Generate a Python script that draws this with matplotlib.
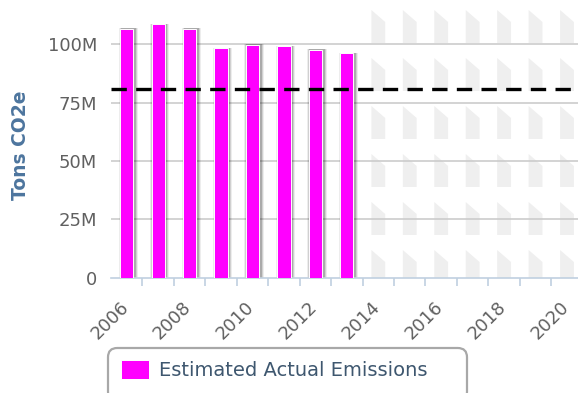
import matplotlib
matplotlib.use("Agg")
import matplotlib.pyplot as plt
import matplotlib.transforms as mtransforms
from matplotlib.patches import Polygon, Rectangle, FancyBboxPatch
from matplotlib.ticker import FixedLocator, FuncFormatter

# emissions in million tons CO2e
actual_years = [2006, 2007, 2008, 2009, 2010, 2011, 2012, 2013]
actual = [106.5, 108.6, 106.5, 98.3, 99.9, 99.2, 97.6, 96.2]
target = 81.0
future_years = [2014, 2015, 2016, 2017, 2018, 2019, 2020, 2021]
label_years = [2006, 2008, 2010, 2012, 2014, 2016, 2018, 2020]
y_ticks = [0, 25, 50, 75, 100]

W, H = 578, 393
fig = plt.figure(figsize=(W / 100, H / 100), dpi=100)
ax_h = 277.7
ax = fig.add_axes([111 / W, 1 - ax_h / H, 1 - 111 / W, ax_h / H])

ax.set_xlim(2005.5, 2020.35)
ax.set_ylim(0, 119.0)

# hatched band for the projection period
band = mtransforms.blended_transform_factory(ax.transData, ax.transAxes)
tw, slant, th, period = 0.44, 12 / ax_h, 33 / ax_h, 48 / ax_h
for cx in future_years:
    for k in range(7):
        top = 1 - (10 / ax_h) - k * period
        pts = [(cx - tw / 2, top), (cx + tw / 2, top - slant),
               (cx + tw / 2, top - th), (cx - tw / 2, top - th)]
        ax.add_patch(Polygon(pts, closed=True, transform=band,
                             facecolor="#efefef", edgecolor="none",
                             zorder=0, clip_on=True))

# gridlines
for v in y_ticks[1:]:
    ax.axhline(v, color="#c8c8c8", lw=1.1, zorder=1)

# bar shadows, then bars
bw = 0.42
px = 1 / 31.5
for i, (x, v) in enumerate(zip(actual_years, actual)):
    for grow, alpha in [(6, 0.07), (4, 0.12), (2, 0.18)]:
        ax.add_patch(Rectangle((x - bw / 2 + 1.5 * px - grow * px / 2, 0),
                               bw + grow * px, v + 0.3, facecolor="black",
                               edgecolor="none", alpha=alpha, zorder=2))
ax.bar(actual_years, actual, width=bw, color="#ff00ff", edgecolor="#ffffff",
       linewidth=0.7, zorder=3, label="Estimated Actual Emissions")

# reduction target
ax.axhline(target, color="black", lw=2.4, dashes=(4.6, 2.8), zorder=4)

for s in ["top", "right", "left"]:
    ax.spines[s].set_visible(False)
ax.spines["bottom"].set_color("#c0d0e0")
ax.spines["bottom"].set_linewidth(1.2)

ax.yaxis.set_major_locator(FixedLocator(y_ticks))
ax.yaxis.set_major_formatter(FuncFormatter(lambda v, p: "0" if v == 0 else f"{v:.0f}M"))
ax.tick_params(axis="y", length=0, pad=10, labelsize=13, labelcolor="#606060")

ax.xaxis.set_major_locator(FixedLocator(label_years))
ax.xaxis.set_minor_locator(FixedLocator([y + 0.5 for y in range(2006, 2021)]))
ax.set_xticklabels([str(y) for y in label_years])
ax.tick_params(axis="x", which="major", length=0, pad=19, labelsize=13,
               labelcolor="#606060")
ax.tick_params(axis="x", which="minor", length=6, width=1.2, color="#c0d0e0")
shift = mtransforms.ScaledTranslation(-1 / 100, 0, fig.dpi_scale_trans)
for lab in ax.get_xticklabels():
    lab.set_rotation(45)
    lab.set_ha("right")
    lab.set_va("center")
    lab.set_rotation_mode("anchor")
    lab.set_transform(lab.get_transform() + shift)

fig.text(21 / W, 1 - 145 / H, "Tons CO2e", rotation=90, ha="center",
         va="center", fontsize=13.5, fontweight="bold", color="#4d759e")

# legend: entries without frame, rounded box drawn separately
leg = fig.legend(loc="upper left", bbox_to_anchor=(113 / W, 1 - 352 / H),
                 borderaxespad=0, fontsize=14, frameon=False,
                 handlelength=1.45, handleheight=1.15, handletextpad=0.5,
                 borderpad=0.4, labelcolor="#3e576f")
fig.patches.append(FancyBboxPatch((108 / W, -8 / H), 359 / W, 53 / H,
                                  boxstyle="round,pad=0,rounding_size=0.016",
                                  transform=fig.transFigure, facecolor="none",
                                  edgecolor="#a8a8a8", linewidth=1.6,
                                  mutation_aspect=W / H))

fig.savefig("out.png", dpi=100)
